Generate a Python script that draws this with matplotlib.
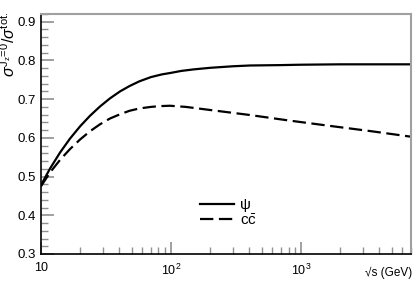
import matplotlib
matplotlib.use("Agg")
from matplotlib import pyplot as plt
from matplotlib.ticker import FixedLocator, FuncFormatter, MultipleLocator

plt.rcParams['font.family'] = ['Liberation Sans', 'DejaVu Sans']
plt.rcParams['mathtext.fontset'] = 'custom'
plt.rcParams['mathtext.rm'] = 'Liberation Sans'
plt.rcParams['mathtext.it'] = 'Liberation Sans:italic'
plt.rcParams['mathtext.sf'] = 'Liberation Sans'

# sqrt(s) in GeV and ratio sigma(Jz=0)/sigma(tot)
energia_psi = [10, 11.7, 14, 16.7, 20, 23.8, 28.4, 33.9, 40.5, 48, 57, 70, 85, 100, 120, 150, 200, 300, 405, 700, 1000, 2000, 4000, 7000]
razao_psi = [0.478, 0.520, 0.562, 0.598, 0.630, 0.657, 0.681, 0.702, 0.720, 0.734, 0.746, 0.757, 0.764, 0.768, 0.773, 0.777, 0.781, 0.785, 0.787, 0.788, 0.789, 0.790, 0.790, 0.790]

energia_cc = [10, 11.7, 14, 16.7, 20, 23.8, 28.4, 33.9, 40.5, 48, 57, 70, 82, 98, 130, 200, 405, 800, 1660, 3500, 7000]
razao_cc = [0.475, 0.510, 0.543, 0.571, 0.596, 0.617, 0.635, 0.650, 0.661, 0.670, 0.676, 0.680, 0.682, 0.683, 0.680, 0.672, 0.659, 0.645, 0.631, 0.617, 0.603]

rotulos_x = {10: '10', 100: '$10^{2}$', 1000: '$10^{3}$'}


def formata_x(valor, pos):
    return rotulos_x.get(int(round(valor)), '')


def main():
    fig = plt.figure(figsize=(4.15, 2.83), dpi=100)
    ax = fig.add_axes([0.0988, 0.1025, 0.8916, 0.848])

    ax.plot(energia_psi, razao_psi, color='black', lw=1.6, label='ψ')
    ax.plot(energia_cc, razao_cc, color='black', lw=1.6, dashes=(6, 2.5), label=r'$\mathrm{c\bar{c}}$')

    ax.set_xscale('log')
    ax.set_xlim(10, 7000)
    ax.set_ylim(0.3, 0.92)

    ax.xaxis.set_major_locator(FixedLocator([10, 100, 1000]))
    menores = [m * 10 ** d for d in range(1, 4) for m in range(2, 10)]
    ax.xaxis.set_minor_locator(FixedLocator(menores))
    ax.xaxis.set_major_formatter(FuncFormatter(formata_x))
    ax.xaxis.set_minor_formatter(FuncFormatter(lambda v, p: ''))
    ax.yaxis.set_major_locator(MultipleLocator(0.1))
    ax.yaxis.set_minor_locator(MultipleLocator(0.02))
    ax.yaxis.set_major_formatter(FuncFormatter(lambda v, p: '%.1f' % v))

    ax.tick_params(which='both', direction='in', color='#909090', labelsize=9.5, pad=4)
    ax.tick_params(which='major', length=9, width=1.2)
    ax.tick_params(which='minor', length=5, width=1.0)
    ax.tick_params(axis='x', which='major', labelsize=9, pad=6)

    for lado in ['top', 'right']:
        ax.spines[lado].set_color('#a0a0a0')
        ax.spines[lado].set_linewidth(1.5)
    for lado in ['left', 'bottom']:
        ax.spines[lado].set_color('black')
        ax.spines[lado].set_linewidth(1.2)

    ax.set_ylabel(r'$\sigma^{\mathrm{J_z\!=\!0}}/\sigma^{\mathrm{tot.}}$', fontsize=11.5)
    ax.yaxis.set_label_coords(-0.062, 0.875)
    ax.set_xlabel('√s (GeV)', fontsize=8.5)
    ax.xaxis.set_label_coords(0.94, -0.052)

    ax.legend(loc='upper left', bbox_to_anchor=(0.41, 0.265), frameon=False, fontsize=11,
              handlelength=2.2, handletextpad=0.4, labelspacing=0.05, borderpad=0)

    fig.savefig('out.png', dpi=100)


if __name__ == "__main__":
    main()
